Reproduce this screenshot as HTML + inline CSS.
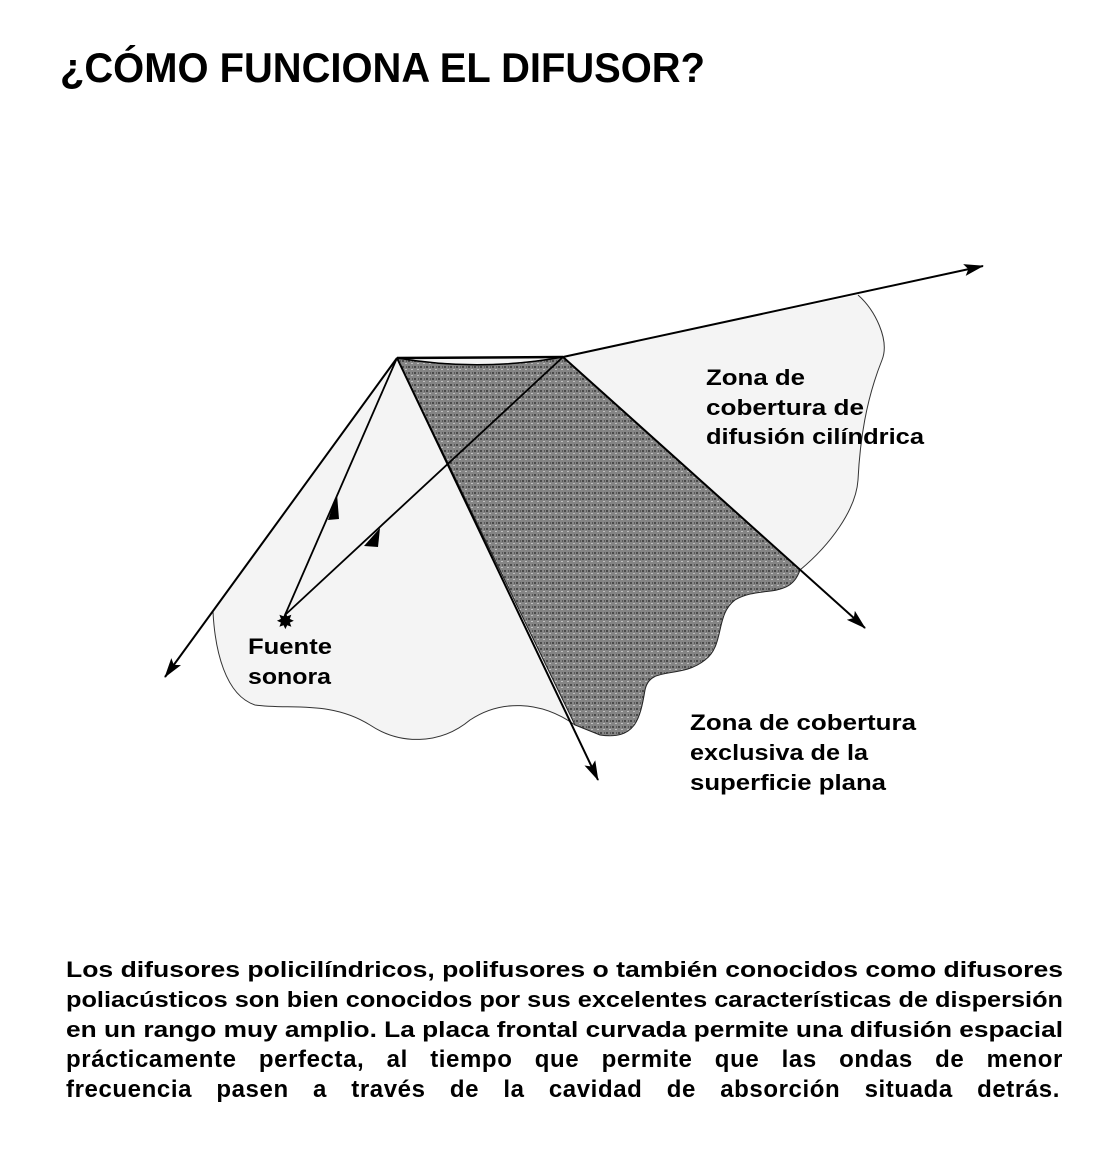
<!DOCTYPE html>
<html><head><meta charset="utf-8"><style>
html,body{margin:0;padding:0;background:#fff;}
svg{display:block;}
text{font-family:"Liberation Sans",sans-serif;font-weight:bold;fill:#000;}
.pl{position:absolute;left:66px;width:997px;font-family:"Liberation Sans",sans-serif;font-weight:bold;font-size:24px;letter-spacing:0.6px;line-height:30px;text-align:justify;text-align-last:justify;white-space:nowrap;}
</style></head><body>
<div style="position:relative;width:1120px;height:1160px;overflow:hidden;">
<svg width="1120" height="1160" viewBox="0 0 1120 1160" xmlns="http://www.w3.org/2000/svg">
<defs>
<marker id="ah" viewBox="0 0 20 12" refX="19" refY="6" markerWidth="20" markerHeight="12" markerUnits="userSpaceOnUse" orient="auto">
<path d="M0,0 L20,6 L0,12 L4,6 Z" fill="#000"/></marker>
<pattern id="dk" width="6" height="6" patternUnits="userSpaceOnUse">
<rect width="6" height="6" fill="#858585"/><rect x="0" y="0" width="2" height="2" fill="#4a4a4a"/><rect x="3" y="3" width="2" height="1" fill="#c0c0c0"/><rect x="4" y="0" width="1" height="2" fill="#5a5a5a"/></pattern>
</defs>
<text x="60" y="82" font-size="42" textLength="645" lengthAdjust="spacingAndGlyphs">¿CÓMO FUNCIONA EL DIFUSOR?</text>

<path d="M397,358 L563,357 L858,295 C875,310 890,340 882,360 C866,400 860,440 858,480 C856,510 830,545 800,570 C790,600 760,585 735,600 C715,615 725,645 705,660 C680,680 650,665 645,690 C640,720 635,740 600,735 L575,725 C540,700 500,700 470,720 C440,745 400,745 370,725 C330,700 290,710 255,705 C225,695 215,650 213,612 Z" fill="#f4f4f4"/>
<path d="M858,295 C875,310 890,340 882,360 C866,400 860,440 858,480 C856,510 830,545 800,570" fill="none" stroke="#333" stroke-width="1"/>
<path d="M575,725 C540,700 500,700 470,720 C440,745 400,745 370,725 C330,700 290,710 255,705 C225,695 215,650 213,612" fill="none" stroke="#333" stroke-width="1"/>
<path d="M397,358 Q480,372 563,357 L800,570 C790,600 760,585 735,600 C715,615 725,645 705,660 C680,680 650,665 645,690 C640,720 635,740 600,735 L575,725 Z" fill="url(#dk)" stroke="#222" stroke-width="1"/>
<path d="M397,358 Q480,372 563,357" fill="none" stroke="#000" stroke-width="1.5"/>

<line x1="397" y1="358" x2="563" y2="357" stroke="#000" stroke-width="2.5"/>
<line x1="563" y1="357" x2="983" y2="266" stroke="#000" stroke-width="2" marker-end="url(#ah)"/>
<line x1="563" y1="357" x2="865" y2="628" stroke="#000" stroke-width="2" marker-end="url(#ah)"/>
<line x1="397" y1="358" x2="598" y2="780" stroke="#000" stroke-width="2" marker-end="url(#ah)"/>
<line x1="397" y1="358" x2="165" y2="677" stroke="#000" stroke-width="2" marker-end="url(#ah)"/>
<line x1="285" y1="615" x2="397" y2="358" stroke="#000" stroke-width="1.8"/>
<line x1="285" y1="615" x2="563" y2="357" stroke="#000" stroke-width="1.8"/>
<path d="M328,520 L337,494 L339,519 Z" fill="#000"/>
<path d="M364,546 L380,528 L378,547 Z" fill="#000"/>
<text x="277" y="628" font-size="20">✸</text>

<text x="706" y="385" font-size="22" textLength="99" lengthAdjust="spacingAndGlyphs">Zona de</text>
<text x="706" y="415" font-size="22" textLength="158" lengthAdjust="spacingAndGlyphs">cobertura de</text>
<text x="706" y="444" font-size="22" textLength="218" lengthAdjust="spacingAndGlyphs">difusión cilíndrica</text>
<text x="248" y="654" font-size="22" textLength="84" lengthAdjust="spacingAndGlyphs">Fuente</text>
<text x="248" y="684" font-size="22" textLength="83" lengthAdjust="spacingAndGlyphs">sonora</text>
<text x="690" y="730" font-size="22" textLength="226" lengthAdjust="spacingAndGlyphs">Zona de cobertura</text>
<text x="690" y="760" font-size="22" textLength="178" lengthAdjust="spacingAndGlyphs">exclusiva de la</text>
<text x="690" y="790" font-size="22" textLength="196" lengthAdjust="spacingAndGlyphs">superficie plana</text>

<text x="66" y="977" font-size="22" textLength="997" lengthAdjust="spacingAndGlyphs">Los difusores policilíndricos, polifusores o también conocidos como difusores</text>
<text x="66" y="1007" font-size="22" textLength="997" lengthAdjust="spacingAndGlyphs">poliacústicos son bien conocidos por sus excelentes características de dispersión</text>
<text x="66" y="1037" font-size="22" textLength="997" lengthAdjust="spacingAndGlyphs">en un rango muy amplio. La placa frontal curvada permite una difusión espacial</text>
</svg>
<div class="pl" style="top:1045px;">prácticamente perfecta, al tiempo que permite que las ondas de menor</div>
<div class="pl" style="top:1075px;width:994px;">frecuencia pasen a través de la cavidad de absorción situada detrás.</div>
</div>
</body></html>
